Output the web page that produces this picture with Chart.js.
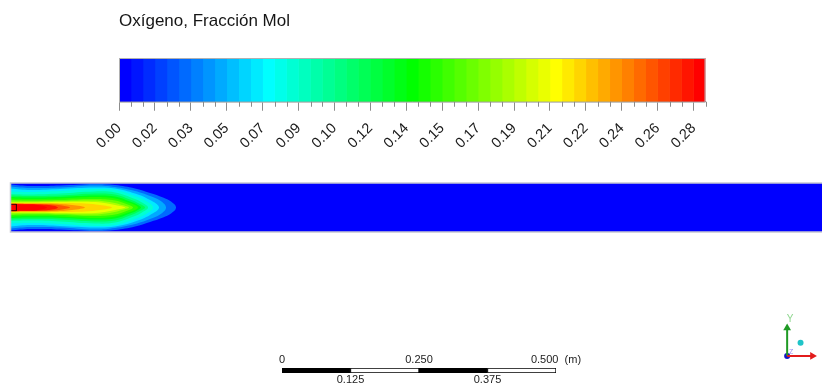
<!DOCTYPE html>
<html>
<head>
<meta charset="utf-8">
<title>Oxígeno, Fracción Mol</title>
<script src="https://cdn.jsdelivr.net/npm/chart.js@4.4.1/dist/chart.umd.min.js"></script>
<style>
  html, body { margin: 0; padding: 0; background: #fff; overflow: hidden; }
  #wrap { position: relative; width: 822px; height: 386px; }
  canvas { position: absolute; }
</style>
</head>
<body>
<div id="wrap">
  <canvas id="legend" width="822" height="165" style="left:0;top:0"></canvas>
  <canvas id="field" width="822" height="60" style="left:0;top:179px"></canvas>
  <canvas id="scalebar" width="400" height="42" style="left:240px;top:345px"></canvas>
  <canvas id="triad" width="52" height="66" style="left:770px;top:305px"></canvas>
</div>
<script>
// ---- data ----
const fieldName = "Oxígeno, Fracción Mol";
const rangeMax = 0.2809;      // top of the colour bar
const bandCount = 49;         // colour steps in the bar

const tickValues = [0, 0.0172, 0.0344, 0.0516, 0.0688, 0.0860, 0.1032, 0.1204, 0.1376,
                    0.1548, 0.1720, 0.1892, 0.2064, 0.2236, 0.2408, 0.2580, 0.2752];
const tickLabels = ["0.00", "0.02", "0.03", "0.05", "0.07", "0.09", "0.10", "0.12", "0.14",
                    "0.15", "0.17", "0.19", "0.21", "0.22", "0.24", "0.26", "0.28"];

// contour levels of the jet, each one is an outline: axial position (m) and half width (m)
const contourLevels = [0.0172, 0.0344, 0.0516, 0.0688, 0.0860, 0.1032, 0.1204, 0.1376,
                       0.1548, 0.1720, 0.1892, 0.2064, 0.2236, 0.2408, 0.2580, 0.2752];
const contourX = [
  [0, 0.036, 0.0913, 0.1559, 0.1928, 0.2297, 0.2574, 0.2814, 0.2961, 0.3054],
  [0, 0.036, 0.0913, 0.1559, 0.1928, 0.2297, 0.2574, 0.2758, 0.2869],
  [0, 0.036, 0.0913, 0.1559, 0.1928, 0.2297, 0.2574, 0.274],
  [0, 0.036, 0.0913, 0.1559, 0.1928, 0.2297, 0.2518, 0.2629],
  [0, 0.036, 0.0913, 0.1559, 0.1928, 0.2297, 0.2426, 0.2537],
  [0, 0.036, 0.0913, 0.1559, 0.1928, 0.2205, 0.2389, 0.2482],
  [0, 0.036, 0.0913, 0.1559, 0.1928, 0.2205, 0.2334, 0.2408],
  [0, 0.036, 0.0913, 0.1559, 0.1928, 0.2168, 0.2297, 0.2352],
  [0, 0.036, 0.0913, 0.1559, 0.1928, 0.2113, 0.226],
  [0, 0.036, 0.0913, 0.1559, 0.1873, 0.2057, 0.2186],
  [0, 0.036, 0.0913, 0.1559, 0.1836, 0.202, 0.2113],
  [0, 0.036, 0.0913, 0.1375, 0.1651, 0.1873],
  [0, 0.036, 0.0821, 0.1135, 0.1375],
  [0, 0.036, 0.0729, 0.095, 0.1098],
  [0, 0.0268, 0.0544, 0.0766, 0.0876],
  [0, 0.0268, 0.0507, 0.0673]
];
const contourHalfWidth = [
  [0.0424, 0.0397, 0.0406, 0.0434, 0.0415, 0.0351, 0.0268, 0.0185, 0.0111, 0],
  [0.0387, 0.036, 0.0369, 0.0406, 0.0378, 0.0304, 0.0212, 0.0129, 0],
  [0.0351, 0.0323, 0.0341, 0.0369, 0.0351, 0.0258, 0.0138, 0],
  [0.0295, 0.0286, 0.0304, 0.0341, 0.0323, 0.0212, 0.0111, 0],
  [0.0249, 0.024, 0.0258, 0.0295, 0.0277, 0.0157, 0.0092, 0],
  [0.0221, 0.0212, 0.0221, 0.0258, 0.024, 0.0148, 0.0065, 0],
  [0.0194, 0.0185, 0.0194, 0.0221, 0.0203, 0.0111, 0.0055, 0],
  [0.0166, 0.0157, 0.0166, 0.0194, 0.0166, 0.0092, 0.0046, 0],
  [0.0138, 0.0129, 0.0138, 0.0157, 0.0129, 0.0074, 0],
  [0.0111, 0.0111, 0.012, 0.0129, 0.0092, 0.0046, 0],
  [0.0092, 0.0092, 0.0101, 0.0101, 0.0065, 0.0028, 0],
  [0.0083, 0.0083, 0.0083, 0.0074, 0.0046, 0],
  [0.0074, 0.0074, 0.007, 0.0046, 0],
  [0.007, 0.0066, 0.0059, 0.0037, 0],
  [0.0065, 0.0061, 0.0055, 0.0037, 0],
  [0.0059, 0.0055, 0.0046, 0]
];
// inlet nozzle outline (m)
const nozzleX = [0, 0.011, 0.011, 0];
const nozzleY = [0.0058, 0.0058, -0.0058, -0.0058];

// domain seen in the view (m)
const domainLength = 1.497;
const domainHalfHeight = 0.0452;

// scale bar (m)
const scaleEdges = [0, 0.125, 0.25, 0.375, 0.5];
const scaleTopTicks = [0, 0.25, 0.5];
const scaleTopLabels = ["0", "0.250", "0.500  (m)"];
const scaleBottomTicks = [0.125, 0.375];
const scaleBottomLabels = ["0.125", "0.375"];

// view triad, unit vectors
const triadX = [{x: 0, y: 0}, {x: 1, y: 0}];
const triadY = [{x: 0, y: 0}, {x: 0, y: 1}];

// ---- helpers ----
const FONT = "'Liberation Sans', Arial, sans-serif";
const bandWidth = rangeMax / bandCount;

// rainbow colour map, blue -> cyan -> green -> yellow -> red, in steps
function bandColor(value) {
  let i = Math.floor(value / bandWidth + 1e-6);
  i = Math.max(0, Math.min(bandCount - 1, i));
  const f = i / (bandCount - 1);
  let r, g, b;
  if (f < 0.25) { r = 0; g = 4 * f * 255; b = 255; }
  else if (f < 0.5) { r = 0; g = 255; b = 255 * (1 - (f - 0.25) * 4); }
  else if (f < 0.75) { r = 255 * (f - 0.5) * 4; g = 255; b = 0; }
  else { r = 255; g = 255 * (1 - (f - 0.75) * 4); b = 0; }
  return `rgb(${Math.round(r)},${Math.round(g)},${Math.round(b)})`;
}

// ---- colour bar ----
const bandDatasets = [];
for (let i = 0; i < bandCount; i++) {
  const lo = i * bandWidth;
  bandDatasets.push({
    data: [[lo, lo + bandWidth]],
    backgroundColor: bandColor(lo + bandWidth / 2),
    borderWidth: 0,
    barPercentage: 1,
    categoryPercentage: 1,
    grouped: false
  });
}

const legendDecor = {
  id: 'legendDecor',
  afterDraw(chart) {
    const ctx = chart.ctx, a = chart.chartArea, sx = chart.scales.x;
    ctx.save();
    ctx.strokeStyle = '#b0b0b0';
    ctx.lineWidth = 1;
    ctx.strokeRect(a.left + 0.5, a.top + 0.5, a.width - 1, a.height);
    // minor ticks, one per colour step
    ctx.strokeStyle = '#8c8c8c';
    ctx.beginPath();
    for (let i = 1; i <= bandCount; i++) {
      if (i % 3 === 0 && i < bandCount) continue;
      const px = Math.round(sx.getPixelForValue(i * bandWidth)) + 0.5;
      ctx.moveTo(px, a.bottom);
      ctx.lineTo(px, a.bottom + 5);
    }
    ctx.stroke();
    ctx.restore();
  }
};

new Chart(document.getElementById('legend'), {
  type: 'bar',
  data: { labels: [fieldName], datasets: bandDatasets },
  options: {
    indexAxis: 'y',
    responsive: false,
    animation: false,
    layout: { padding: { left: 119, right: 116.5, top: 0, bottom: 4 } },
    plugins: {
      legend: { display: false },
      tooltip: { enabled: false },
      title: {
        display: true,
        text: fieldName,
        align: 'start',
        color: '#161616',
        font: { family: FONT, size: 17, weight: 'normal' },
        padding: { top: 11, bottom: 26.6 }
      }
    },
    scales: {
      y: { display: false },
      x: {
        type: 'linear',
        min: 0,
        max: rangeMax,
        afterBuildTicks: (scale) => { scale.ticks = tickValues.map(v => ({ value: v })); },
        ticks: {
          autoSkip: false,
          minRotation: 45,
          maxRotation: 45,
          padding: 9,
          color: '#1a1a1a',
          font: { family: FONT, size: 14.5 },
          callback: (v, i) => tickLabels[i]
        },
        grid: { drawOnChartArea: false, drawTicks: true, tickLength: 9, tickColor: '#8c8c8c' },
        border: { display: true, color: '#8c8c8c' }
      }
    }
  },
  plugins: [legendDecor]
});

// ---- contour field ----
const fieldDatasets = contourLevels.map((level, k) => {
  const xs = contourX[k], hw = contourHalfWidth[k];
  const pts = xs.map((x, i) => ({ x: x, y: hw[i] }));
  for (let i = xs.length - 2; i >= 0; i--) pts.push({ x: xs[i], y: -hw[i] });
  return {
    label: tickLabels[k + 1],
    data: pts,
    fill: 'shape',
    backgroundColor: bandColor(level + 2.5 * bandWidth),
    borderWidth: 0,
    pointRadius: 0,
    tension: 0.4,
    order: contourLevels.length - k
  };
});
fieldDatasets.push({
  label: 'inlet',
  data: nozzleX.map((x, i) => ({ x: x, y: nozzleY[i] })),
  fill: false,
  borderColor: '#3a0606',
  borderWidth: 1,
  pointRadius: 0,
  tension: 0,
  order: -1
});

const domainFrame = {
  id: 'domainFrame',
  beforeDatasetsDraw(chart) {
    const ctx = chart.ctx, a = chart.chartArea;
    ctx.save();
    ctx.fillStyle = bandColor(0);
    ctx.fillRect(a.left, a.top, a.width, a.height);
    ctx.restore();
  },
  afterDraw(chart) {
    const ctx = chart.ctx, a = chart.chartArea;
    ctx.save();
    ctx.strokeStyle = '#c6c8d2';
    ctx.lineWidth = 1.5;
    ctx.beginPath();
    ctx.moveTo(a.right + 2, a.top);
    ctx.lineTo(a.left, a.top);
    ctx.lineTo(a.left, a.bottom);
    ctx.lineTo(a.right + 2, a.bottom);
    ctx.stroke();
    ctx.restore();
  }
};

new Chart(document.getElementById('field'), {
  type: 'line',
  data: { datasets: fieldDatasets },
  options: {
    responsive: false,
    animation: false,
    layout: { padding: { left: 10.5, right: 0, top: 4, bottom: 7 } },
    plugins: { legend: { display: false }, tooltip: { enabled: false } },
    scales: {
      x: { type: 'linear', display: false, min: 0, max: domainLength },
      y: { type: 'linear', display: false, min: -domainHalfHeight, max: domainHalfHeight }
    }
  },
  plugins: [domainFrame]
});

// ---- scale bar ----
const scaleDatasets = [];
for (let i = 0; i < scaleEdges.length - 1; i++) {
  scaleDatasets.push({
    data: [[scaleEdges[i], scaleEdges[i + 1]]],
    backgroundColor: i % 2 === 0 ? '#000' : '#fff',
    borderColor: '#000',
    borderWidth: 1,
    borderSkipped: false,
    barPercentage: 1,
    categoryPercentage: 1,
    grouped: false
  });
}

const scaleTickFont = { family: FONT, size: 11 };
new Chart(document.getElementById('scalebar'), {
  type: 'bar',
  data: { labels: ['escala'], datasets: scaleDatasets },
  options: {
    indexAxis: 'y',
    responsive: false,
    animation: false,
    layout: { padding: { left: 42, right: 84, top: 7.8, bottom: 0.8 } },
    plugins: { legend: { display: false }, tooltip: { enabled: false } },
    scales: {
      y: { display: false },
      x: {
        type: 'linear', position: 'bottom', min: 0, max: 0.5,
        afterBuildTicks: (scale) => { scale.ticks = scaleBottomTicks.map(v => ({ value: v })); },
        ticks: { autoSkip: false, maxRotation: 0, padding: 0, color: '#222', font: scaleTickFont,
                 callback: (v, i) => scaleBottomLabels[i] },
        grid: { display: false, drawTicks: false },
        border: { display: false }
      },
      x2: {
        type: 'linear', axis: 'x', position: 'top', min: 0, max: 0.5,
        afterBuildTicks: (scale) => { scale.ticks = scaleTopTicks.map(v => ({ value: v })); },
        ticks: { autoSkip: false, maxRotation: 0, padding: 1, color: '#222', font: scaleTickFont,
                 callback: (v, i) => scaleTopLabels[i] },
        grid: { display: false, drawTicks: false },
        border: { display: false }
      }
    }
  }
});

// ---- view triad ----
const triadText = {
  id: 'triadText',
  afterDatasetsDraw(chart) {
    const ctx = chart.ctx, sx = chart.scales.x, sy = chart.scales.y;
    ctx.save();
    ctx.font = "10px " + FONT;
    ctx.fillStyle = '#8fd68f';
    ctx.textAlign = 'center';
    ctx.fillText('Y', sx.getPixelForValue(0) + 3, sy.getPixelForValue(1) - 6);
    ctx.font = "7px " + FONT;
    ctx.fillStyle = '#9a8cf0';
    ctx.fillText('Z', sx.getPixelForValue(0) + 4, sy.getPixelForValue(0) - 2);
    ctx.restore();
  }
};

new Chart(document.getElementById('triad'), {
  type: 'line',
  data: {
    datasets: [
      { data: triadX, borderColor: '#e21b1b', borderWidth: 2, pointStyle: 'triangle', pointRotation: 90,
        pointRadius: [0, 4.5], pointBackgroundColor: '#e21b1b', pointBorderWidth: 0 },
      { data: triadY, borderColor: '#1f9a24', borderWidth: 2, pointStyle: 'triangle', pointRotation: 0,
        pointRadius: [0, 4.5], pointBackgroundColor: '#1f9a24', pointBorderWidth: 0 },
      { data: [{ x: 0, y: 0 }], pointRadius: 3, pointBackgroundColor: '#1414c8', pointBorderWidth: 0 },
      { data: [{ x: 0.53, y: 0.47 }], pointRadius: 3, pointBackgroundColor: '#1fc4c8', pointBorderWidth: 0 }
    ]
  },
  options: {
    responsive: false,
    animation: false,
    layout: { padding: 0 },
    plugins: { legend: { display: false }, tooltip: { enabled: false } },
    scales: {
      x: { type: 'linear', display: false, min: -0.5, max: 1.2 },
      y: { type: 'linear', display: false, min: -0.375, max: 1.656 }
    }
  },
  plugins: [triadText]
});
</script>
</body>
</html>
